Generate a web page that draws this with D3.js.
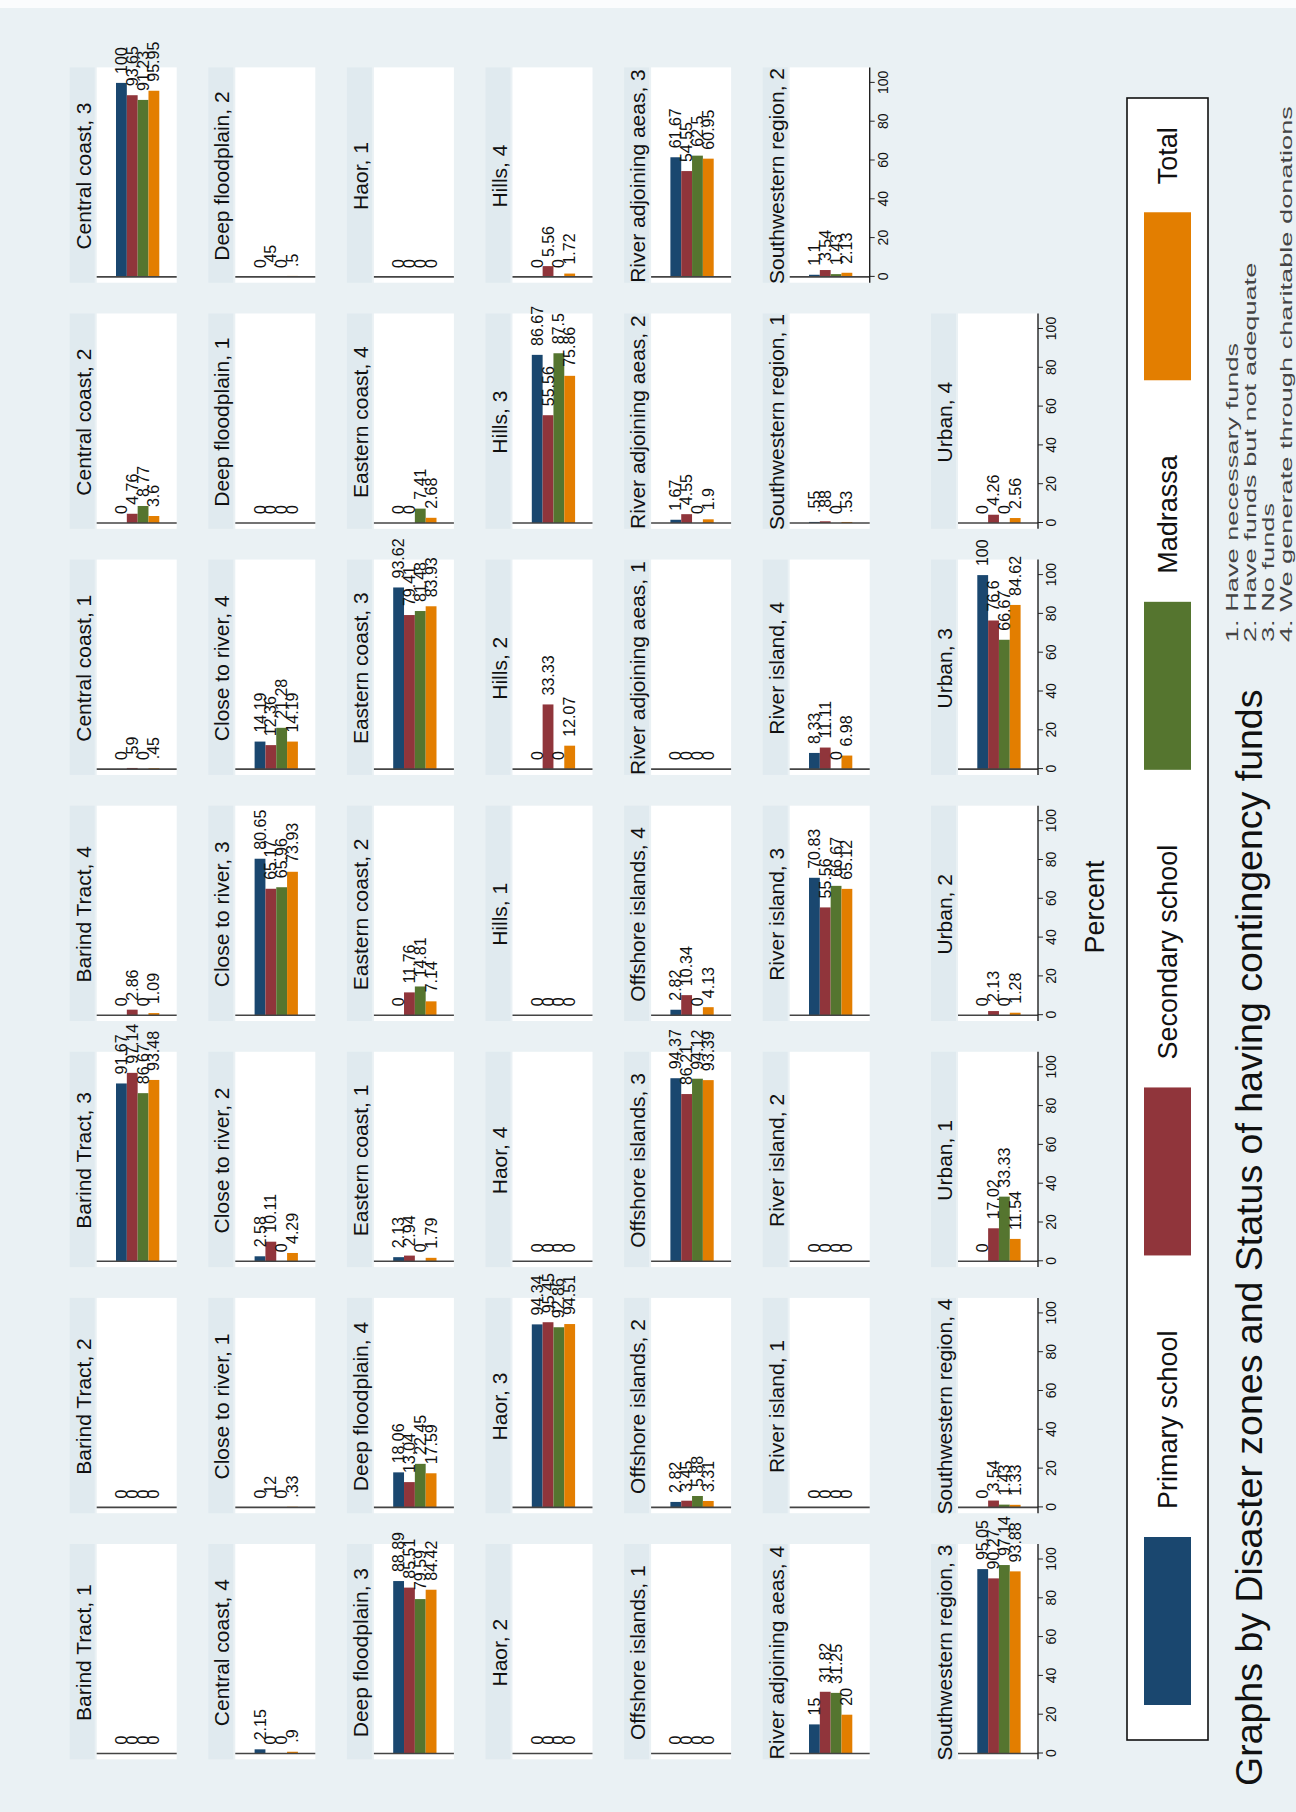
<!DOCTYPE html>
<html>
<head>
<meta charset="utf-8">
<script src="https://cdn.jsdelivr.net/npm/d3@7"></script>
<style>
body { margin: 0; background: #fff; }
text { font-family: "Liberation Sans", Arial, sans-serif; fill: #111; }
</style>
</head>
<body>
<script>
// categories
const zones = ['Barind Tract', 'Central coast', 'Close to river', 'Deep floodplain', 'Eastern coast', 'Haor',
	'Hills', 'Offshore islands', 'River adjoining aeas', 'River island', 'Southwestern region', 'Urban']
const statuses = [1, 2, 3, 4]
const series = ['Primary school', 'Secondary school', 'Madrassa', 'Total']
const colors = ['#1a476f', '#90353b', '#55752f', '#e37e00']

// percent by zone (rows of 4 = status 1..4)
const primary = [
	0, 0, 91.67, 0,		0, 0, 100, 2.15,		0, 2.58, 80.65, 14.19,		0, 0, 88.89, 18.06,
	2.13, 0, 93.62, 0,	0, 0, 94.34, 0,		0, 0, 86.67, 0,		0, 2.82, 94.37, 2.82,
	0, 1.67, 61.67, 15,	0, 0, 70.83, 8.33,		.55, 1.1, 95.05, 0,	0, 0, 100, 0]
const secondary = [
	0, 0, 97.14, 2.86,	.59, 4.76, 93.65, 0,	.12, 10.11, 65.17, 12.36,	0, .45, 85.51, 13.04,
	2.94, 11.76, 79.41, 0,	0, 0, 95.45, 0,	0, 33.33, 55.56, 5.56,	0, 3.45, 86.21, 10.34,
	0, 4.55, 54.55, 31.82,	0, 0, 55.56, 11.11,	.88, 3.54, 90.27, 3.54,	17.02, 2.13, 76.6, 4.26]
const madrassa = [
	0, 0, 86.67, 0,		0, 8.77, 91.23, 0,		0, 0, 65.96, 21.28,		0, 0, 79.59, 22.45,
	0, 14.81, 81.48, 7.41,	0, 0, 92.86, 0,	0, 0, 87.5, 0,		0, 5.88, 94.12, 0,
	0, 0, 62.5, 31.25,	0, 0, 66.67, 0,		0, 1.43, 97.14, 1.43,	33.33, 0, 66.67, 0]
const total = [
	0, 0, 93.48, 1.09,	.45, 3.6, 95.95, .9,	.33, 4.29, 73.93, 14.19,	0, .5, 84.42, 17.59,
	1.79, 7.14, 83.93, 2.68,	0, 0, 94.51, 0,	0, 12.07, 75.86, 1.72,	0, 3.31, 93.39, 4.13,
	0, 1.9, 60.95, 20,	0, 0, 65.12, 6.98,		.53, 2.13, 93.88, 1.33,	11.54, 1.28, 84.62, 2.56]

const ticks = [0, 20, 40, 60, 80, 100]
const notes = ['1. Have necessary funds', '2. Have funds but not adequate', '3. No funds',
	'4. We generate through charitable donations']
const byNote = 'Graphs by Disaster zones and Status of having contingency funds'

const W = 1296, H = 1812
const svg = d3.select('body').append('svg').attr('width', W).attr('height', H)
svg.append('rect').attr('width', W).attr('height', H).attr('fill', '#eaf1f4')
// scan edge at the top
svg.append('rect').attr('width', W).attr('height', 8).attr('fill', '#fbfcfd')

// the stata graph is drawn upright (1812 wide, 1296 tall) and turned a quarter left
const g = svg.append('g').attr('transform', `translate(0,${H}) rotate(-90)`)

const nCols = 7
const colStep = 246.1, rowStep = 138.6
const panelU = c => 58.5 + c * colStep
const panelV = r => r < 6 ? 96.7 + r * rowStep : 958
const plotH = 80

const x = d3.scaleLinear().domain([0, 100]).range([0, 194])
const y = d3.scaleBand().domain(series).range([19.3, 62.6])
const color = d3.scaleOrdinal().domain(series).range(colors)

const panels = d3.range(zones.length * statuses.length).map(i => ({
	title: `${zones[Math.floor(i / 4)]}, ${statuses[i % 4]}`,
	col: i % nCols,
	row: Math.floor(i / nCols),
	vals: series.map((s, k) => ({s: s, v: [primary, secondary, madrassa, total][k][i]}))
}))

const pg = g.selectAll('g.panel').data(panels).join('g')
	.attr('class', 'panel')
	.attr('transform', d => `translate(${panelU(d.col)},${panelV(d.row)})`)

// subtitle band
pg.append('rect')
	.attr('x', x(-3)).attr('y', -27)
	.attr('width', x(108) - x(-3)).attr('height', 25)
	.attr('fill', '#e0eaef')

// plot region
pg.append('rect')
	.attr('x', x(-3)).attr('y', 0)
	.attr('width', x(108) - x(-3)).attr('height', plotH)
	.attr('fill', '#fff')

pg.append('text')
	.attr('x', x(52)).attr('y', -6)
	.attr('text-anchor', 'middle')
	.attr('font-size', 21)
	.text(d => d.title)

pg.selectAll('rect.bar').data(d => d.vals).join('rect')
	.attr('class', 'bar')
	.attr('x', x(0)).attr('y', d => y(d.s))
	.attr('width', d => x(d.v) - x(0))
	.attr('height', y.bandwidth())
	.attr('fill', d => color(d.s))

pg.selectAll('text.lab').data(d => d.vals).join('text')
	.attr('class', 'lab')
	.attr('x', d => x(d.v) + 9)
	.attr('y', d => y(d.s) + y.bandwidth() / 2)
	.attr('dominant-baseline', 'central')
	.attr('font-size', 16)
	.text(d => String(d.v).replace(/^0\./, '.'))

pg.append('line')
	.attr('x1', x(0)).attr('x2', x(0))
	.attr('y1', 0).attr('y2', plotH)
	.attr('stroke', '#444').attr('stroke-width', 1.6)

// value axis only under the last panel of each column
const axisPanels = pg.filter(d => d.row === 6 || (d.row === 5 && d.col === nCols - 1))
axisPanels.append('line')
	.attr('x1', x(-3)).attr('x2', x(108))
	.attr('y1', plotH).attr('y2', plotH)
	.attr('stroke', '#222').attr('stroke-width', 1.4)
axisPanels.append('g')
	.attr('transform', `translate(0,${plotH})`)
	.call(d3.axisBottom(x).tickValues(ticks).tickSize(5).tickSizeOuter(0).tickPadding(3))
	.call(a => a.select('.domain').remove())
	.call(a => a.selectAll('text').attr('font-size', 14).attr('font-family', null).style('fill', '#111'))
	.call(a => a.selectAll('line').attr('stroke', '#222'))

g.append('text')
	.attr('x', 905).attr('y', 1104)
	.attr('text-anchor', 'middle')
	.attr('font-size', 27)
	.text('Percent')

// legend
const leg = g.append('g')
leg.append('rect')
	.attr('x', 72).attr('y', 1127).attr('width', 1642).attr('height', 81)
	.attr('fill', '#fff').attr('stroke', '#111').attr('stroke-width', 1.6)
let lu = 107
series.forEach(s => {
	leg.append('rect').attr('x', lu).attr('y', 1144).attr('width', 168).attr('height', 47).attr('fill', color(s))
	const t = leg.append('text')
		.attr('x', lu + 196).attr('y', 1168)
		.attr('dominant-baseline', 'central')
		.attr('font-size', 27)
		.text(s)
	lu += 196 + t.node().getComputedTextLength() + 75
})

g.append('text')
	.attr('x', 26).attr('y', 1262)
	.attr('font-size', 37.5)
	.text(byNote)

// notes, wide and light
const ng = g.append('g').attr('transform', 'translate(1170,1238) scale(1.7,1)')
ng.selectAll('text').data(notes).join('text')
	.attr('x', 0).attr('y', (d, i) => i * 18)
	.attr('font-size', 16)
	.style('fill', '#444')
	.text(d => d)
</script>
</body>
</html>
